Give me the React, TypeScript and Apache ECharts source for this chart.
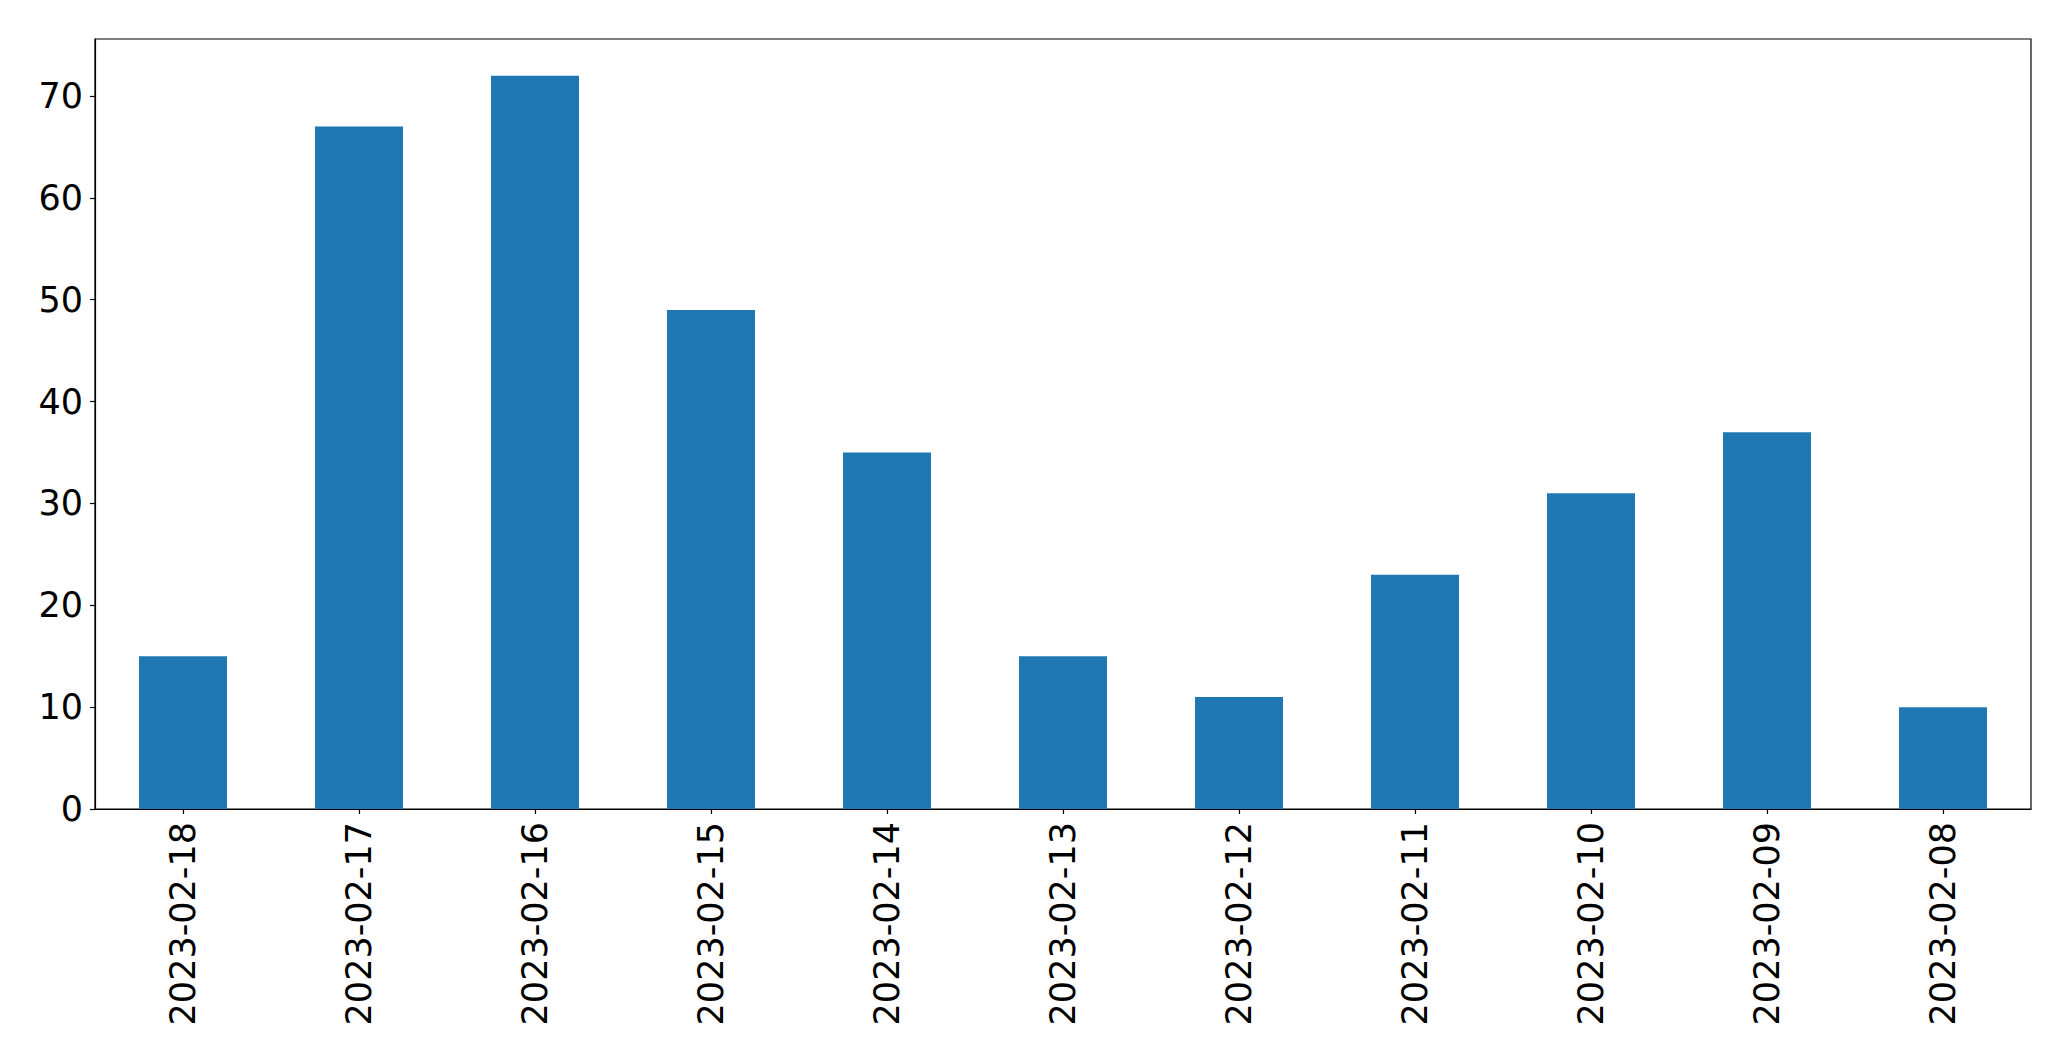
import React, { useEffect, useRef } from "react";
import * as echarts from "echarts";

const categories = [
  "2023-02-18", "2023-02-17", "2023-02-16", "2023-02-15", "2023-02-14", "2023-02-13",
  "2023-02-12", "2023-02-11", "2023-02-10", "2023-02-09", "2023-02-08",
];
const values = [15, 67, 72, 49, 35, 15, 11, 23, 31, 37, 10];
const yTicks = [0, 10, 20, 30, 40, 50, 60, 70];
const yMax = 75.6;

export default function App() {
  const ref = useRef<HTMLDivElement>(null);
  useEffect(() => {
    document.body.style.margin = "0";
    const chart = echarts.init(ref.current!, null, { renderer: "svg" });
    const font = "DejaVu Sans";
    chart.setOption({
      animation: false,
      backgroundColor: "#ffffff",
      grid: {
        left: 95, right: 40, top: 39, bottom: 252,
        show: true, borderColor: "#000000", borderWidth: 1.2, backgroundColor: "transparent",
      },
      xAxis: {
        type: "category",
        data: categories,
        axisLine: { show: true, lineStyle: { color: "#000", width: 1.2 } },
        axisTick: { show: true, alignWithLabel: true, length: 5, lineStyle: { color: "#000", width: 1.2 } },
        axisLabel: {
          rotate: 90, margin: 13, color: "#000", fontSize: 35, fontFamily: font, interval: 0,
        },
        splitLine: { show: false },
      },
      yAxis: {
        type: "value",
        min: 0,
        max: yMax,
        axisLine: { show: true, lineStyle: { color: "#000", width: 1.2 } },
        axisTick: { show: true, length: 5, lineStyle: { color: "#000", width: 1.2 }, customValues: yTicks },
        axisLabel: { color: "#000", fontSize: 35, fontFamily: font, margin: 12, customValues: yTicks },
        splitLine: { show: false },
      },
      series: [
        {
          type: "bar",
          data: values,
          barWidth: "50%",
          itemStyle: { color: "#1f77b4" },
        },
      ],
    });
    return () => chart.dispose();
  }, []);
  return <div ref={ref} style={{ width: 2071, height: 1061 }} />;
}
